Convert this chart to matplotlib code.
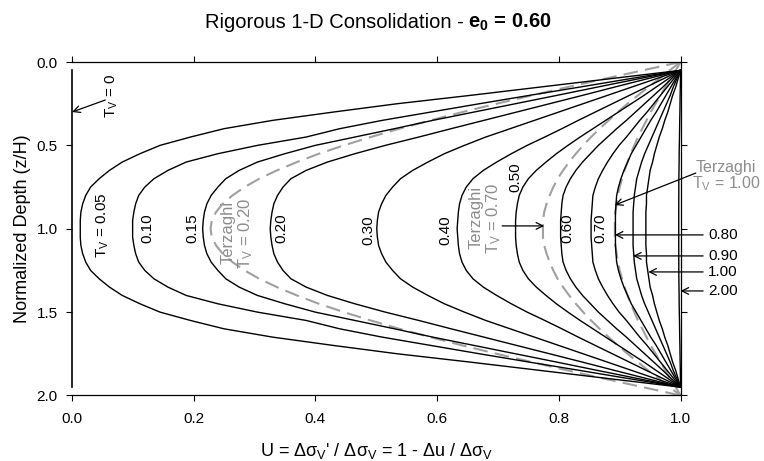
import numpy as np
import matplotlib
matplotlib.use("Agg")
import matplotlib.pyplot as plt

plt.rcParams['font.family'] = ['Liberation Sans', 'DejaVu Sans']
plt.rcParams['mathtext.fontset'] = 'custom'
plt.rcParams['mathtext.rm'] = 'Liberation Sans'
plt.rcParams['mathtext.it'] = 'Liberation Sans'
plt.rcParams['mathtext.bf'] = 'Liberation Sans:bold'

# depths of the upper half of the layer (profiles are symmetric about z/H = 1)
depth_rig = [0.05, 0.10, 0.15, 0.20, 0.25, 0.30, 0.35, 0.40, 0.45, 0.50,
             0.55, 0.60, 0.65, 0.70, 0.75, 0.80, 0.85, 0.90, 0.95, 1.00]
depth_terz = [0.00, 0.05, 0.10, 0.15, 0.20, 0.25, 0.30, 0.35, 0.40, 0.45, 0.50,
              0.55, 0.60, 0.65, 0.70, 0.75, 0.80, 0.85, 0.90, 0.95, 1.00]

# rigorous solution, U
u_005 = [1.0, 0.885, 0.770, 0.655, 0.535, 0.430, 0.330, 0.250, 0.195, 0.145,
         0.112, 0.083, 0.062, 0.045, 0.031, 0.023, 0.018, 0.015, 0.014, 0.014]
u_010 = [1.0, 0.917, 0.835, 0.752, 0.670, 0.590, 0.510, 0.440, 0.385, 0.305,
         0.240, 0.188, 0.158, 0.135, 0.120, 0.110, 0.105, 0.102, 0.100, 0.100]
u_015 = [1.0, 0.932, 0.864, 0.797, 0.729, 0.661, 0.593, 0.530, 0.465, 0.400,
         0.350, 0.305, 0.275, 0.253, 0.240, 0.229, 0.222, 0.218, 0.216, 0.215]
u_020 = [1.0, 0.946, 0.892, 0.839, 0.785, 0.731, 0.677, 0.623, 0.570, 0.515,
         0.465, 0.420, 0.385, 0.360, 0.347, 0.338, 0.332, 0.329, 0.327, 0.326]
u_030 = [1.0, 0.960, 0.920, 0.880, 0.840, 0.800, 0.760, 0.720, 0.680, 0.645,
         0.612, 0.585, 0.560, 0.540, 0.527, 0.516, 0.509, 0.504, 0.502, 0.501]
u_040 = [1.0, 0.972, 0.944, 0.916, 0.888, 0.860, 0.832, 0.805, 0.777, 0.748,
         0.722, 0.698, 0.676, 0.659, 0.648, 0.641, 0.637, 0.635, 0.634, 0.633]
u_050 = [1.0, 0.980, 0.960, 0.940, 0.919, 0.898, 0.877, 0.856, 0.835, 0.815,
         0.796, 0.779, 0.763, 0.750, 0.741, 0.735, 0.732, 0.730, 0.729, 0.729]
u_060 = [1.0, 0.985, 0.971, 0.956, 0.941, 0.926, 0.911, 0.895, 0.880, 0.865,
         0.852, 0.839, 0.828, 0.819, 0.812, 0.807, 0.805, 0.804, 0.803, 0.803]
u_070 = [1.0, 0.989, 0.978, 0.967, 0.956, 0.945, 0.933, 0.922, 0.911, 0.899,
         0.889, 0.880, 0.872, 0.865, 0.860, 0.856, 0.855, 0.854, 0.853, 0.853]
u_080 = [1.0, 0.992, 0.984, 0.976, 0.968, 0.960, 0.951, 0.943, 0.935, 0.927,
         0.919, 0.913, 0.907, 0.902, 0.898, 0.895, 0.894, 0.893, 0.893, 0.893]
u_090 = [1.0, 0.994, 0.988, 0.983, 0.977, 0.971, 0.965, 0.959, 0.953, 0.947,
         0.941, 0.936, 0.932, 0.928, 0.926, 0.924, 0.923, 0.922, 0.922, 0.922]
u_100 = [1.0, 0.996, 0.992, 0.987, 0.983, 0.979, 0.974, 0.970, 0.965, 0.961,
         0.957, 0.954, 0.950, 0.948, 0.946, 0.944, 0.944, 0.943, 0.943, 0.943]
u_200 = [1.0, 0.9998, 0.9996, 0.9993, 0.9991, 0.9989, 0.9986, 0.9984, 0.9982, 0.9979,
         0.9977, 0.9976, 0.9974, 0.9972, 0.9971, 0.9971, 0.997, 0.997, 0.997, 0.997]

# Terzaghi small-strain curves (dashed)
terz_020 = [1.0, 0.938, 0.876, 0.815, 0.756, 0.698, 0.642, 0.589, 0.538, 0.491, 0.447,
            0.406, 0.370, 0.337, 0.308, 0.284, 0.264, 0.248, 0.237, 0.230, 0.228]
terz_070 = [1.0, 0.982, 0.965, 0.947, 0.930, 0.913, 0.897, 0.882, 0.867, 0.853, 0.840,
            0.828, 0.817, 0.807, 0.798, 0.791, 0.785, 0.780, 0.776, 0.774, 0.774]
terz_100 = [1.0, 0.992, 0.983, 0.975, 0.967, 0.959, 0.951, 0.944, 0.937, 0.930, 0.924,
            0.918, 0.913, 0.908, 0.904, 0.900, 0.897, 0.895, 0.893, 0.892, 0.892]

x_ticks = [0.0, 0.2, 0.4, 0.6, 0.8, 1.0]
y_ticks = [0.0, 0.5, 1.0, 1.5, 2.0]


def full_profile(z_half, u_half):
    # mirror the upper half about mid-depth
    z = list(z_half) + [2.0 - v for v in reversed(z_half[:-1])]
    u = list(u_half) + list(reversed(u_half[:-1]))
    return u, z


fig = plt.figure(figsize=(7.64, 4.61), dpi=100)
ax = fig.add_axes([0.0939, 0.1421, 0.7969, 0.7234])

gray = '#a0a0a0'
for terz in [terz_020, terz_070, terz_100]:
    u, z = full_profile(depth_terz, terz)
    ax.plot(u, z, color=gray, lw=1.5, dashes=(7, 3.5))

for curve in [u_005, u_010, u_015, u_020, u_030, u_040, u_050, u_060,
              u_070, u_080, u_090, u_100, u_200]:
    u, z = full_profile(depth_rig, curve)
    ax.plot(u, z, color='black', lw=1.0)

# T_V = 0 : nothing consolidated yet
ax.plot([0.0, 0.0], [depth_rig[0], 2.0 - depth_rig[0]], color='black', lw=1.2, clip_on=False)

ax.set_xlim(0, 1)
ax.set_ylim(2, 0)
ax.set_xticks(x_ticks)
ax.set_yticks(y_ticks)
ax.xaxis.set_major_formatter(plt.FormatStrFormatter('%.1f'))
ax.yaxis.set_major_formatter(plt.FormatStrFormatter('%.1f'))
ax.tick_params(direction='out', length=4, width=0.8, labelsize=11,
               top=True, right=True)
ax.tick_params(axis='x', pad=8)
ax.tick_params(axis='y', pad=6)
ax.spines['left'].set_visible(False)
for s in ['top', 'bottom', 'right']:
    ax.spines[s].set_linewidth(0.9)

ax.set_xlabel(r"U = $\Delta\sigma_{\rm V}$' / $\Delta\sigma_{\rm V}$ = 1 - $\Delta$u / $\Delta\sigma_{\rm V}$",
              fontsize=13, labelpad=11)
ax.set_ylabel('Normalized Depth (z/H)', fontsize=13, labelpad=4)

# title: regular part followed by a bold part
t1 = fig.text(0, 0.952, 'Rigorous 1-D Consolidation -', ha='left', va='center', fontsize=14.5)
t2 = fig.text(0, 0.952, r' e$_{\mathbf{0}}$ = 0.60', ha='left', va='center',
              fontsize=14.5, fontweight='bold')
renderer = fig.canvas.get_renderer()
w1 = t1.get_window_extent(renderer).width / fig.bbox.width
w2 = t2.get_window_extent(renderer).width / fig.bbox.width
x0 = 0.495 - (w1 + w2) / 2
t1.set_x(x0)
t2.set_x(x0 + w1)

tv = r'T$_{\rm V}$'
lab = dict(rotation=90, ha='center', va='center', fontsize=11)
ax.text(0.051, 0.978, tv + ' = 0.05', **lab)
ax.text(0.124, 0.995, '0.10', **lab)
ax.text(0.198, 0.995, '0.15', **lab)
ax.text(0.345, 0.995, '0.20', **lab)
ax.text(0.487, 1.007, '0.30', **lab)
ax.text(0.613, 1.007, '0.40', **lab)
ax.text(0.728, 0.690, '0.50', **lab)
ax.text(0.814, 0.995, '0.60', **lab)
ax.text(0.868, 0.995, '0.70', **lab)
terz_lab = dict(rotation=90, ha='center', va='center', fontsize=12, color='#8c8c8c',
                multialignment='center', linespacing=1.0)
ax.text(0.273, 1.025, 'Terzaghi\n' + tv + ' = 0.20', **terz_lab)
ax.text(0.680, 0.935, 'Terzaghi\n' + tv + ' = 0.70', **terz_lab)
ax.text(0.066, 0.204, tv + ' = 0', **lab)

arrow = dict(arrowstyle='->', lw=0.9, color='black', shrinkA=0, shrinkB=0,
             mutation_scale=12)
ax.annotate('', xy=(0.0005, 0.300), xytext=(0.055, 0.228), arrowprops=arrow)
ax.annotate('', xy=(0.776, 0.983), xytext=(0.707, 0.983), arrowprops=arrow)

ax.text(1.075, 0.687, 'Terzaghi\n' + tv + ' = 1.00', color='#8c8c8c', ha='center',
        va='center', fontsize=11.5, multialignment='center', clip_on=False,
        linespacing=1.0)
ax.annotate('', xy=(0.892, 0.858), xytext=(1.025, 0.666), arrowprops=arrow,
            annotation_clip=False)

right_labels = ['0.80', '0.90', '1.00', '2.00']
right_y = [1.037, 1.163, 1.259, 1.373]
right_head = [0.892, 0.922, 0.947, 1.0]
for txt, yy, hx in zip(right_labels, right_y, right_head):
    ax.annotate('', xy=(hx, yy), xytext=(1.037, yy), arrowprops=arrow,
                annotation_clip=False)
    ax.text(1.045, yy, txt, ha='left', va='center', fontsize=11, clip_on=False)

fig.savefig('out.png', dpi=100)
